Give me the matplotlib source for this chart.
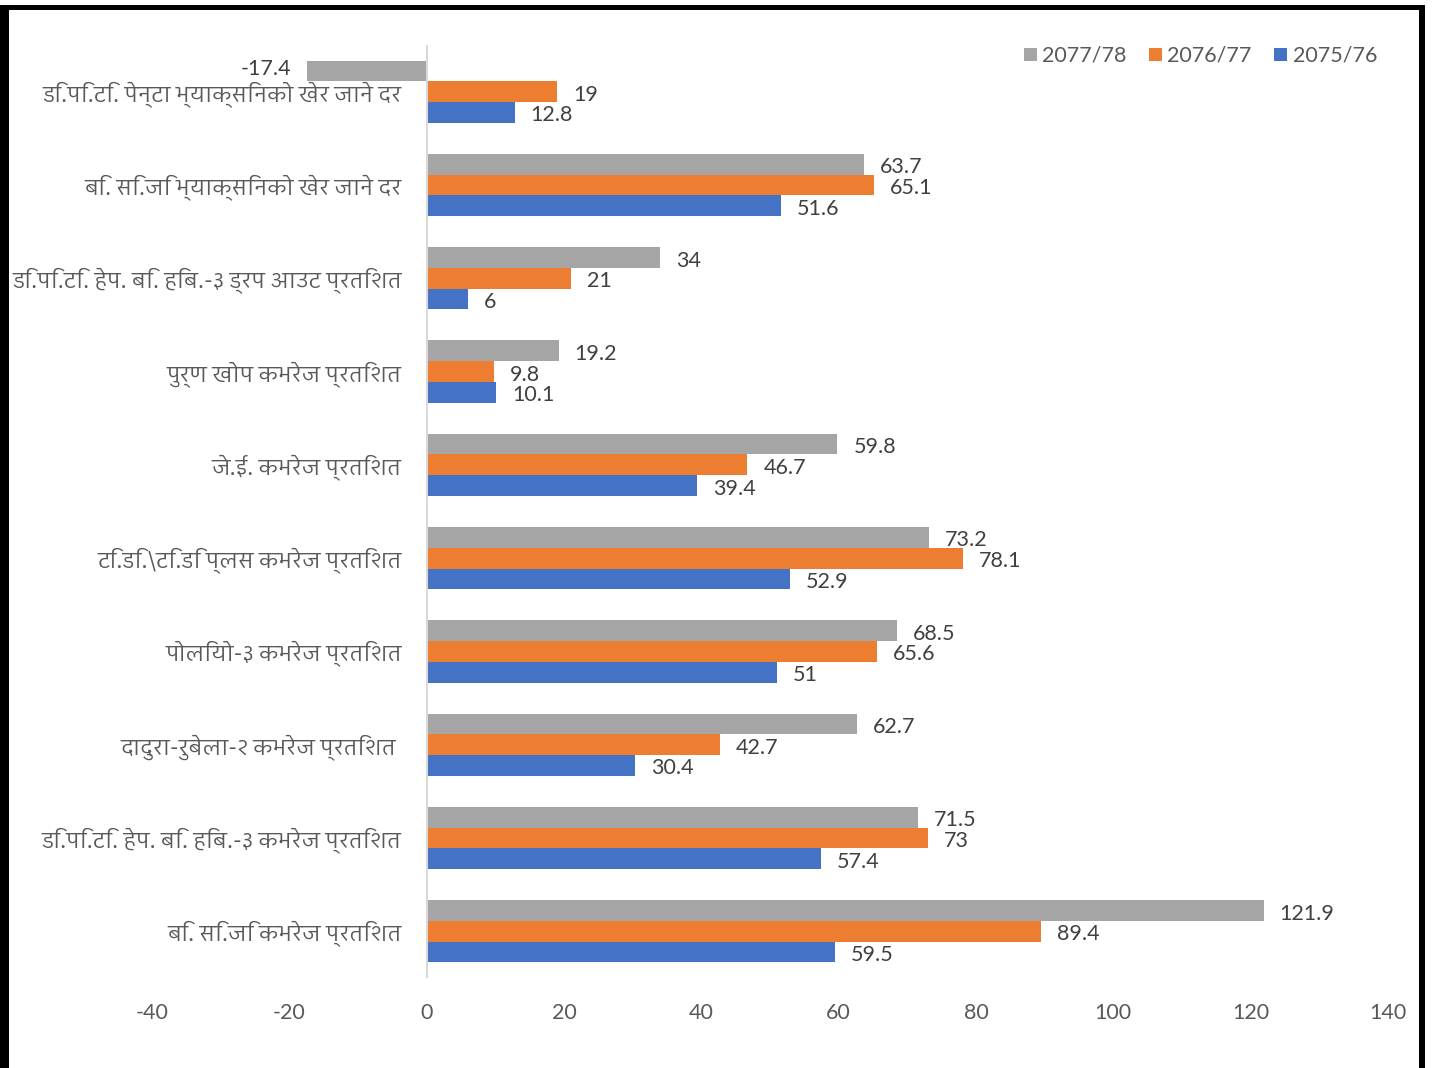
import matplotlib
matplotlib.use("Agg")
import matplotlib.pyplot as plt
from matplotlib import font_manager
from matplotlib.ft2font import FT2Font
from matplotlib.patches import Rectangle
import numpy as np

# ---------------- data ----------------
categories = [
    "डि.पि.टि. पेन्टा भ्याक्सिनको खेर जाने दर",
    "बि. सि.जि भ्याक्सिनको खेर जाने दर",
    "डि.पि.टि. हेप. बि. हिब.-३ ड्रप आउट प्रतिशत",
    "पुर्ण खोप कभरेज प्रतिशत",
    "जे.ई. कभरेज प्रतिशत",
    "टि.डि.\\टि.डि प्लस कभरेज प्रतिशत",
    "पोलियो-३ कभरेज प्रतिशत",
    "दादुरा-रुबेला-२ कभरेज प्रतिशत ",
    "डि.पि.टि. हेप. बि. हिब.-३ कभरेज प्रतिशत",
    "बि. सि.जि कभरेज प्रतिशत",
]
series_names = ["2077/78", "2076/77", "2075/76"]
v_2077_78 = [-17.4, 63.7, 34, 19.2, 59.8, 73.2, 68.5, 62.7, 71.5, 121.9]
v_2076_77 = [19, 65.1, 21, 9.8, 46.7, 78.1, 65.6, 42.7, 73, 89.4]
v_2075_76 = [12.8, 51.6, 6, 10.1, 39.4, 52.9, 51, 30.4, 57.4, 59.5]
x_ticks = [-40, -20, 0, 20, 40, 60, 80, 100, 120, 140]

colors = ["#A5A5A5", "#ED7D31", "#4472C4"]
text_color = "#595959"

# ---------------- fonts ----------------
def find_devanagari_font():
    found = []
    for f in font_manager.fontManager.ttflist:
        try:
            cm = FT2Font(f.fname).get_charmap()
        except Exception:
            continue
        if 0x0915 in cm and 0x093F in cm:
            found.append(f)
    if not found:
        return None
    def score(f):
        s = 0
        if "devanagari" in f.name.lower():
            s -= 10
        if f.weight not in (400, "normal", "regular"):
            s += 5
        if f.style != "normal":
            s += 5
        return s
    found.sort(key=score)
    return found[0].name

deva = find_devanagari_font()
num_family = ["Lato", "DejaVu Sans"]
label_family = ([deva] if deva else []) + ["Lato", "DejaVu Sans"]
plt.rcParams["font.family"] = num_family

# ---------------- figure ----------------
W, H = 1434, 1068
fig = plt.figure(figsize=(W / 100, H / 100), dpi=100)
fig.patch.set_facecolor("white")

left, right, top, bottom = 152, 1388, 45, 978
ax = fig.add_axes([left / W, 1 - bottom / H, (right - left) / W, (bottom - top) / H])

n = len(categories)
y = np.arange(n)
h = 0.222
series = [v_2077_78, v_2076_77, v_2075_76]
offsets = [-h, 0, h]
num_size = 15.5

for vals, c, off, name in zip(series, colors, offsets, series_names):
    ax.barh(y + off, vals, height=h, color=c, label=name, zorder=2)
    for yi, v in zip(y, vals):
        if v >= 0:
            ax.annotate(f"{v:g}", xy=(v, yi + off), xytext=(16, -3),
                        textcoords="offset pixels", ha="left", va="center",
                        fontsize=num_size, color="#404040", family=num_family)
        else:
            ax.annotate(f"{v:g}", xy=(v, yi + off), xytext=(-16, 2),
                        textcoords="offset pixels", ha="right", va="center",
                        fontsize=num_size, color="#404040", family=num_family)

for yi, lab in zip(y, categories):
    ax.annotate(lab, xy=(0, yi), xytext=(-25, -2), textcoords="offset pixels",
                ha="right", va="center", fontsize=16, color=text_color,
                family=label_family, annotation_clip=False)

ax.axvline(0, color="#D9D9D9", lw=1.5, zorder=3)
ax.set_xlim(-40, 140)
ax.set_ylim(n - 0.5, -0.5)
ax.set_xticks(x_ticks)
ax.set_xticklabels([str(t) for t in x_ticks])
ax.set_yticks([])
ax.tick_params(axis="x", length=0, pad=18, labelsize=num_size, labelcolor=text_color)
for sp in ax.spines.values():
    sp.set_visible(False)
ax.set_facecolor("none")

leg = ax.legend(loc="center right", bbox_to_anchor=(1392 / W, 1 - 56 / H),
                bbox_transform=fig.transFigure, ncol=3, frameon=False,
                handlelength=0.6, handleheight=0.6, handletextpad=0.25,
                columnspacing=1.05, borderpad=0.2,
                prop={"family": num_family, "size": num_size})
for t in leg.get_texts():
    t.set_color(text_color)

# ---------------- black frame ----------------
def px_rect(x0, y0, x1, y1):
    fig.add_artist(Rectangle((x0 / W, 1 - y1 / H), (x1 - x0) / W, (y1 - y0) / H,
                             transform=fig.transFigure, facecolor="black",
                             edgecolor="none", zorder=10))

px_rect(0, 5, 9, H)
px_rect(0, 5, 1425, 10)
px_rect(1419, 5, 1425, H)

fig.savefig("out.png", dpi=100, facecolor="white")
